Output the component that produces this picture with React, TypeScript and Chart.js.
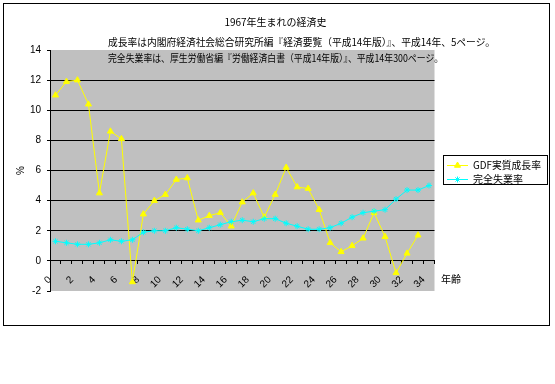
import React, { useEffect, useRef } from 'react';
import Chart from 'chart.js/auto';
import { drawPoint } from 'chart.js/helpers';

// ---- data ----
const ages = ['0','1','2','3','4','5','6','7','8','9','10','11','12','13','14','15','16','17','18','19','20','21','22','23','24','25','26','27','28','29','30','31','32','33','34'];
const gdpGrowth = [11.0, 11.9, 12.0, 10.4, 4.5, 8.6, 8.1, -1.4, 3.1, 4.0, 4.4, 5.4, 5.5, 2.7, 3.0, 3.2, 2.3, 3.9, 4.5, 2.9, 4.4, 6.2, 4.9, 4.8, 3.4, 1.2, 0.6, 1.0, 1.5, 3.2, 1.6, -0.8, 0.5, 1.7, null];
const unemployment = [1.3, 1.2, 1.1, 1.1, 1.2, 1.4, 1.3, 1.4, 1.9, 2.0, 2.0, 2.2, 2.1, 2.0, 2.2, 2.4, 2.6, 2.7, 2.6, 2.8, 2.8, 2.5, 2.3, 2.1, 2.1, 2.2, 2.5, 2.9, 3.2, 3.3, 3.4, 4.1, 4.7, 4.7, 5.0];
const seriesNames = ['GDF実質成長率', '完全失業率'];
const yMin = -2;
const yMax = 14;
const yStep = 2;

const titleText = '1967年生まれの経済史';
const noteGrowth = '成長率は内閣府経済社会総合研究所編『経済要覧（平成14年版）』、平成14年、5ページ。';
const noteUnemp = '完全失業率は、厚生労働省編『労働経済白書（平成14年版）』、平成14年300ページ。';
const xTitle = '年齢';
const yTitle = '%';

const JP = '"Noto Sans CJK JP", sans-serif';
const LAT = '"Liberation Sans", Arial, sans-serif';

const decorPlugin = {
  id: 'decor',
  beforeDraw(chart: any) {
    const { ctx, chartArea: a } = chart;
    ctx.save();
    ctx.fillStyle = '#ffffff';
    ctx.fillRect(0, 0, chart.width, chart.height);
    ctx.fillStyle = '#c0c0c0';
    ctx.fillRect(a.left, a.top, a.right - a.left, a.bottom - a.top);
    ctx.restore();
  },
  afterDraw(chart: any) {
    const ctx = chart.ctx;
    ctx.save();
    ctx.strokeStyle = '#000';
    ctx.lineWidth = 1;
    ctx.strokeRect(3.5, 3.5, 546, 322);

    ctx.fillStyle = '#000';
    ctx.font = '10px ' + JP;
    ctx.textBaseline = 'middle';
    ctx.textAlign = 'center';
    ctx.fillText(titleText, 275.5, 22);
    ctx.textAlign = 'left';
    ctx.fillText(noteGrowth, 108, 42, 387);
    ctx.fillText(noteUnemp, 108, 58, 335);
    ctx.fillText(xTitle, 441, 279);

    // legend
    ctx.strokeStyle = '#000';
    ctx.strokeRect(443.5, 155.5, 104, 29);
    chart.data.datasets.forEach((ds: any, i: number) => {
      const y = 165 + i * 14;
      ctx.strokeStyle = ds.borderColor;
      ctx.lineWidth = 1;
      ctx.beginPath();
      ctx.moveTo(447, y + 0.5);
      ctx.lineTo(468, y + 0.5);
      ctx.stroke();
      ctx.fillStyle = ds.pointBackgroundColor;
      ctx.strokeStyle = ds.pointBorderColor;
      drawPoint(ctx, { pointStyle: ds.pointStyle, rotation: 0, radius: ds.pointRadius, borderWidth: ds.pointBorderWidth }, 457.5, y + 0.5);
      ctx.fillStyle = '#000';
      ctx.font = '10px ' + JP;
      ctx.textAlign = 'left';
      ctx.fillText(ds.label, 473, y + 0.5, 68);
    });
    ctx.restore();
  },
};

export default function App() {
  const ref = useRef<HTMLCanvasElement>(null);
  useEffect(() => {
    Chart.defaults.font.family = LAT;
    const chart = new Chart(ref.current as HTMLCanvasElement, {
      type: 'line',
      data: {
        labels: ages,
        datasets: [
          {
            label: seriesNames[0],
            data: gdpGrowth,
            borderColor: '#ffff00',
            backgroundColor: '#ffff00',
            borderWidth: 1,
            pointStyle: 'triangle',
            pointRadius: 3.5,
            pointBorderWidth: 1,
            pointBackgroundColor: '#ffff00',
            pointBorderColor: '#ffff00',
            tension: 0,
            order: 1,
          },
          {
            label: seriesNames[1],
            data: unemployment,
            borderColor: '#00ffff',
            backgroundColor: '#00ffff',
            borderWidth: 1,
            pointStyle: 'star',
            pointRadius: 3,
            pointBorderWidth: 1,
            pointBackgroundColor: '#00ffff',
            pointBorderColor: '#00ffff',
            tension: 0,
            order: 0,
          },
        ],
      },
      options: {
        responsive: false,
        animation: false,
        events: [],
        layout: { padding: { top: 50, right: 120.5, bottom: 93, left: 11 } },
        plugins: {
          legend: { display: false },
          tooltip: { enabled: false },
          title: { display: false },
        },
        scales: {
          x: {
            type: 'category',
            offset: true,
            position: { y: 0 } as any,
            grid: {
              offset: true,
              drawOnChartArea: false,
              drawTicks: true,
              tickLength: 3,
              tickColor: '#000',
              color: '#000',
            },
            border: { display: true, color: '#000', width: 1 },
            ticks: {
              autoSkip: false,
              maxRotation: 45,
              minRotation: 44.9,
              labelOffset: -5.5,
              padding: 10,
              color: '#000',
              font: { family: LAT, size: 10 },
              callback: (_v: any, i: number) => (i % 2 === 0 ? ages[i] : ''),
            },
            afterFit: (s: any) => {
              s.height = 0;
            },
          },
          y: {
            min: yMin,
            max: yMax,
            position: 'left',
            ticks: {
              stepSize: yStep,
              padding: 6,
              color: '#000',
              font: { family: LAT, size: 10 },
            },
            grid: {
              color: (c: any) =>
                c.tick && (c.tick.value === yMax || c.tick.value === yMin) ? 'rgba(0,0,0,0)' : '#000',
              tickColor: '#000',
              tickLength: 3,
              lineWidth: 1,
            },
            border: { display: true, color: '#000', width: 1 },
            title: {
              display: true,
              text: yTitle,
              color: '#000',
              font: { family: LAT, size: 10 },
              padding: { top: 4, bottom: 4 },
            },
            afterFit: (s: any) => {
              s.width = 39;
            },
          },
        },
      },
      plugins: [decorPlugin],
    } as any);
    return () => chart.destroy();
  }, []);
  return (
    <div style={{ position: 'absolute', left: 0, top: 0, width: 555, height: 384, background: '#fff' }}>
      <canvas ref={ref} width={555} height={384} style={{ display: 'block', width: 555, height: 384 }} />
    </div>
  );
}
